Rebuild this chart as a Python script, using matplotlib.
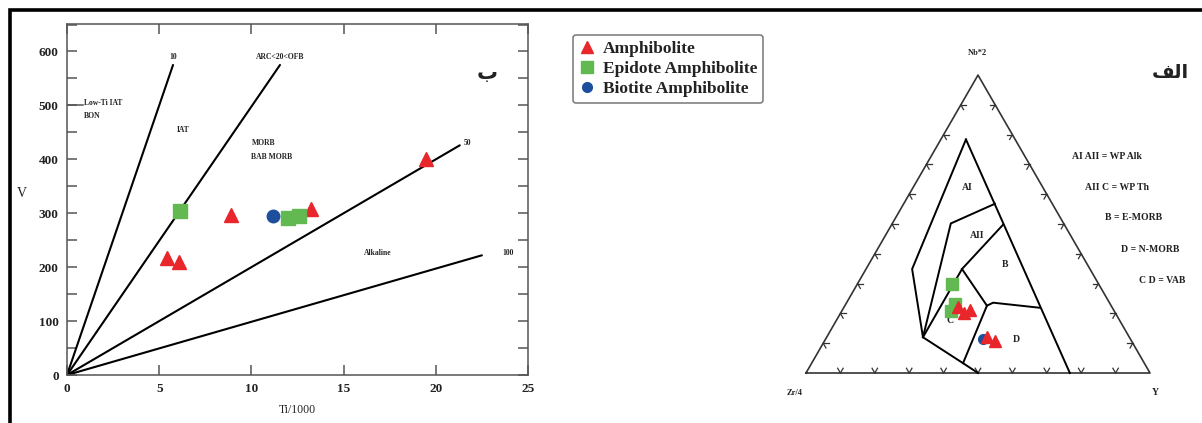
import numpy as np
import matplotlib
matplotlib.use("Agg")
import matplotlib.pyplot as plt
from matplotlib.lines import Line2D
from matplotlib.patches import Rectangle
from matplotlib.ticker import MultipleLocator

plt.rcParams["font.family"] = ["Liberation Serif", "DejaVu Sans"]
plt.rcParams["font.weight"] = "bold"

# ---------------- Ti/1000 - V diagram (left, "ب") ----------------
amph_ti = [5.4, 6.1, 8.9, 13.25, 19.45]
amph_v = [217, 209, 297, 308, 401]
epid_ti = [6.15, 12.0, 12.6]
epid_v = [304, 292, 294]
biot_ti = [11.15]
biot_v = [294]

# discriminant lines Ti/V = 10, 20, 50, 100 (from origin to end point)
line_names = ["10", "ARC<20<OFB", "50", "100"]
line_end_ti = [5.75, 11.55, 21.3, 22.5]
line_end_v = [575, 575, 426, 222]

# ---------------- Nb*2 - Zr/4 - Y ternary (right, "الف") ----------------
# compositions as (Zr/4, Nb*2, Y) in percent
tern_amph = [(44.6, 22.3, 33.1), (43.9, 20.3, 35.8), (41.6, 21.3, 37.1),
             (41.4, 12.0, 46.6), (39.8, 10.6, 49.6)]
tern_epid = [(42.6, 29.9, 27.5), (47.4, 20.9, 31.7), (45.0, 23.3, 31.7)]
tern_biot = [(42.8, 11.3, 45.9)]

# field boundaries (polylines of (Zr/4, Nb*2, Y))
fields = [
    [(14.3, 78.4, 7.3), (51.7, 34.9, 13.4), (60.0, 12.0, 28.0), (52.7, 3.3, 44.0), (50.0, 0.0, 50.0)],
    [(14.3, 78.4, 7.3), (23.3, 0.0, 76.7)],
    [(60.0, 12.0, 28.0), (32.8, 50.2, 17.0), (16.7, 56.8, 26.5)],
    [(60.0, 12.0, 28.0), (37.2, 34.9, 27.9), (17.8, 49.8, 32.4)],
    [(37.2, 34.9, 27.9), (36.1, 22.6, 41.3), (52.7, 3.3, 44.0)],
    [(36.1, 22.6, 41.3), (33.8, 23.6, 42.6), (21.1, 21.9, 57.0)],
]
tick_fracs = [0.1, 0.2, 0.3, 0.4, 0.5, 0.6, 0.7, 0.8, 0.9]
key_lines = ["AI AII = WP Alk", "AII C = WP Th", "B = E-MORB", "D = N-MORB", "C D = VAB"]

RED = "#e8262c"
GREEN = "#62b951"
BLUE = "#1d4f9c"
INK = "#222222"


def tern_xy(pts):
    p = np.asarray(pts, dtype=float)
    tot = p.sum(axis=1)
    x = (p[:, 2] + p[:, 1] / 2) / tot
    y = p[:, 1] * np.sqrt(3) / 2 / tot
    return x, y


fig = plt.figure(figsize=(12.02, 4.23), dpi=100)

# outer frame (only top and left edges fall inside the image)
fig.add_artist(Rectangle((10 / 1202, -0.1), 1.2, 1.1 - 10 / 423, transform=fig.transFigure,
                         fill=False, lw=2.6, ec="black", clip_on=False))

# -------- left panel --------
ax = fig.add_axes([67 / 1202, 48 / 423, 461 / 1202, 351 / 423])
for t, v in zip(line_end_ti, line_end_v):
    ax.plot([0, t], [0, v], color="black", lw=1.5, solid_capstyle="round")
ax.plot(amph_ti, amph_v, "^", color=RED, ms=10.5, mec=RED, ls="none", zorder=5)
ax.plot(epid_ti, epid_v, "s", color=GREEN, ms=10, mec=GREEN, ls="none", zorder=5)
ax.plot(biot_ti, biot_v, "o", color=BLUE, ms=9, mec=BLUE, ls="none", zorder=5)

ax.set_xlim(0, 25)
ax.set_ylim(0, 651)
ax.set_xticks([0, 5, 10, 15, 20, 25])
ax.set_yticks([0, 100, 200, 300, 400, 500, 600])
ax.yaxis.set_minor_locator(MultipleLocator(50))
ax.tick_params(which="both", direction="in", top=True, right=True, length=7,
               width=1.1, color="#555555", labelsize=9.5, labelcolor=INK, pad=6)
for s in ax.spines.values():
    s.set_color("#555555")
    s.set_linewidth(1.1)
ax.set_xlabel("Ti/1000", fontsize=8.5, color=INK, labelpad=6)
ax.set_ylabel("V", fontsize=10, color=INK, rotation=0, labelpad=12)

small = dict(fontsize=5.5, color=INK)
ax.text(line_end_ti[0], line_end_v[0] + 8, line_names[0], ha="center", va="bottom", **small)
ax.text(line_end_ti[1], line_end_v[1] + 8, line_names[1], ha="center", va="bottom", **small)
ax.text(line_end_ti[2] + 0.2, line_end_v[2] + 4, line_names[2], ha="left", va="center", **small)
ax.text(line_end_ti[3] + 1.1, line_end_v[3] + 4, line_names[3], ha="left", va="center", **small)
ax.plot([0, 0.85], [500, 500], color="#555555", lw=1.1)
ax.text(0.9, 505, "Low-Ti IAT", ha="left", va="center", **small)
ax.text(0.9, 480, "BON", ha="left", va="center", **small)
ax.text(6.3, 455, "IAT", ha="center", va="center", **small)
ax.text(10.0, 430, "MORB", ha="left", va="center", **small)
ax.text(10.0, 405, "BAB MORB", ha="left", va="center", **small)
ax.text(16.1, 226, "Alkaline", ha="left", va="center", **small)
ax.text(22.8, 560, "ب", ha="center", va="center", fontsize=15, color=INK,
        family=["DejaVu Sans"])

# legend
handles = [
    Line2D([], [], marker="^", ls="none", color=RED, ms=8, label="Amphibolite"),
    Line2D([], [], marker="s", ls="none", color=GREEN, ms=8, label="Epidote Amphibolite"),
    Line2D([], [], marker="o", ls="none", color=BLUE, ms=7, label="Biotite Amphibolite"),
]
leg = fig.legend(handles=handles, loc="upper left", bbox_to_anchor=(573 / 1202, 1 - 35 / 423),
                 prop=dict(family="Liberation Serif", weight="bold", size=12.5),
                 frameon=True, fancybox=True, handlelength=0.9, handletextpad=0.45,
                 labelspacing=0.22, borderpad=0.35, borderaxespad=0)
leg.get_frame().set_edgecolor("#555555")
leg.get_frame().set_linewidth(1.1)
for t in leg.get_texts():
    t.set_color(INK)

# -------- right panel: ternary --------
tx = fig.add_axes([780 / 1202, 0, 422 / 1202, 1])
tx.set_xlim((780 - 806) / 344, (1202 - 806) / 344)
tx.set_ylim((373 - 423) / 344, 373 / 344)
tx.axis("off")

h = np.sqrt(3) / 2
tx.plot([0, 1, 0.5, 0], [0, 0, h, 0], color="#333333", lw=1.2)
tl = 0.016
dirs = {
    "bottom": [(np.cos(np.pi / 3), np.sin(np.pi / 3)), (np.cos(2 * np.pi / 3), np.sin(2 * np.pi / 3))],
    "left": [(1, 0), (np.cos(-np.pi / 3), np.sin(-np.pi / 3))],
    "right": [(-1, 0), (np.cos(4 * np.pi / 3), np.sin(4 * np.pi / 3))],
}
for f in tick_fracs:
    bases = {"bottom": (f, 0), "left": (0.5 * f, h * f), "right": (1 - 0.5 * f, h * f)}
    for edge, (bx, by) in bases.items():
        for dx, dy in dirs[edge]:
            tx.plot([bx, bx + tl * dx], [by, by + tl * dy], color="#333333", lw=0.9)

for poly in fields:
    x, y = tern_xy(poly)
    tx.plot(x, y, color="black", lw=1.4, solid_joinstyle="miter")

fl = dict(fontsize=7, color=INK, ha="center", va="center")
tx.text(0.419, 0.154, "C", **fl)
tx.text(0.468, 0.538, "AI", **fl)
tx.text(0.497, 0.401, "AII", **fl)
tx.text(0.578, 0.314, "B", **fl)
tx.text(0.613, 0.096, "D", **fl)

x, y = tern_xy(tern_epid)
tx.plot(x, y, "s", color=GREEN, ms=8, mec=GREEN, ls="none", zorder=5)
x, y = tern_xy(tern_amph)
tx.plot(x, y, "^", color=RED, ms=8, mec=RED, ls="none", zorder=6)
x, y = tern_xy(tern_biot)
tx.plot(x, y, "o", color=BLUE, ms=7, mec=BLUE, ls="none", zorder=5)

tx.text(0.497, 0.930, "Nb*2", fontsize=6, color=INK, ha="center", va="center")
tx.text(-0.032, -0.058, "Zr/4", fontsize=6, color=INK, ha="center", va="center")
tx.text(1.015, -0.058, "Y", fontsize=7, color=INK, ha="center", va="center")
tx.text(1.058, 0.875, "\ufed2\ufedf\ufe8d", fontsize=14, color=INK, ha="center", va="center",
        family=["DejaVu Sans"])

key_x = [0.875, 0.904, 0.951, 1.0, 1.035]
key_y = [0.628, 0.538, 0.451, 0.360, 0.270]
for kx, ky, s in zip(key_x, key_y, key_lines):
    tx.text(kx, ky, s, fontsize=7, color=INK, ha="center", va="center")

fig.savefig("out.png", dpi=100)
